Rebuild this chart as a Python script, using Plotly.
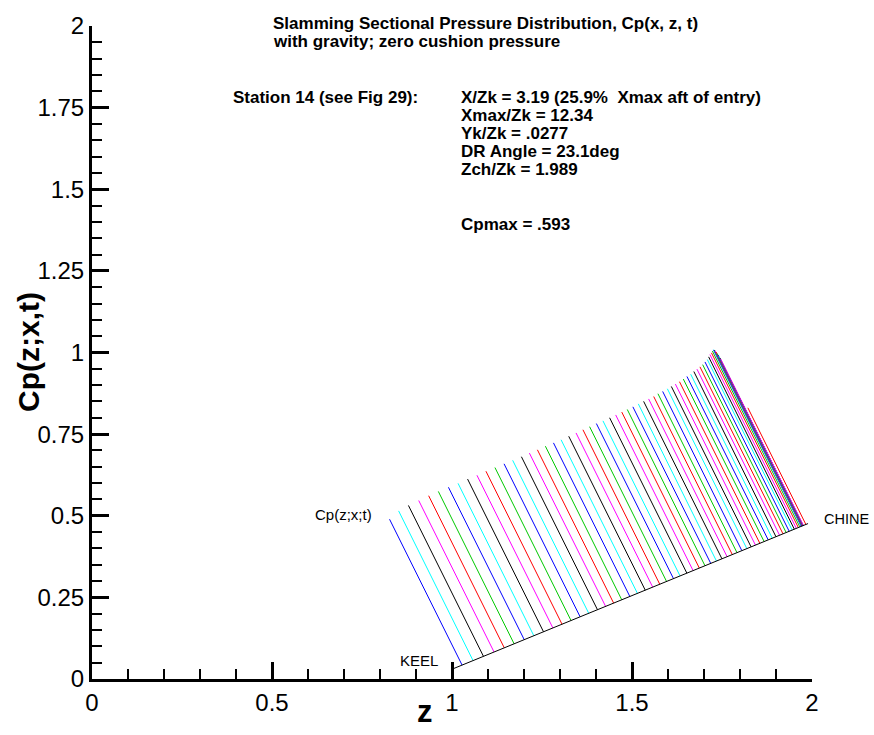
import numpy as np
import plotly.graph_objects as go

# Hull section (keel to chine) in the z / Cp plane
hull_z = [1.0, 1.989]
hull_y = [0.03, 0.476]

# Stations along the hull and the sectional pressure coefficient at each
station_z = [1.028, 1.0585, 1.0874, 1.1168, 1.1452, 1.1725, 1.2006, 1.2273, 1.2542, 1.2802,
             1.3056, 1.3306, 1.3559, 1.3798, 1.4041, 1.4267, 1.4490, 1.4715, 1.4940, 1.5151,
             1.5368, 1.5575, 1.5771, 1.5960, 1.6152, 1.6335, 1.6524, 1.6697, 1.6870, 1.7027,
             1.7187, 1.7346, 1.7498, 1.7641, 1.7786, 1.7916, 1.8051, 1.8190, 1.8308, 1.8429,
             1.8551, 1.8670, 1.8783, 1.8896, 1.8999, 1.9099, 1.9194, 1.9282, 1.9366, 1.9448,
             1.9509, 1.9565, 1.9620, 1.9662, 1.9700, 1.9712, 1.9722, 1.9730, 1.9737, 1.9743,
             1.9748, 1.9752, 1.9756, 1.9760, 1.9830]
station_cp = [0.490, 0.503, 0.507, 0.509, 0.511, 0.512, 0.512, 0.512, 0.513, 0.513,
              0.514, 0.514, 0.514, 0.514, 0.514, 0.515, 0.515, 0.516, 0.516, 0.516,
              0.517, 0.518, 0.519, 0.520, 0.521, 0.521, 0.522, 0.523, 0.524, 0.525,
              0.526, 0.528, 0.529, 0.530, 0.531, 0.534, 0.535, 0.537, 0.539, 0.541,
              0.543, 0.546, 0.549, 0.551, 0.555, 0.558, 0.561, 0.564, 0.569, 0.573,
              0.579, 0.584, 0.587, 0.591, 0.593, 0.593, 0.591, 0.588, 0.584, 0.579,
              0.574, 0.569, 0.564, 0.560, 0.392]

line_colors = ["#0000ff", "#00ffff", "#000000", "#ff00ff", "#ff0000", "#00c800"]

x_ticks = [0, 0.5, 1, 1.5, 2]
x_tick_labels = ["0", "0.5", "1", "1.5", "2"]
y_ticks = [0, 0.25, 0.5, 0.75, 1, 1.25, 1.5, 1.75, 2]
y_tick_labels = ["0", "0.25", "0.5", "0.75", "1", "1.25", "1.5", "1.75", "2"]

FONT = "Liberation Sans, Arial, sans-serif"

# Plot area in pixels (left, right, top, bottom)
PL, PR, PT, PB = 92, 812, 22, 679

# Pressure is drawn as sticks normal to the hull line
slope = (hull_y[1] - hull_y[0]) / (hull_z[1] - hull_z[0])
norm = np.hypot(1.0, slope)
nx, ny = -slope / norm, 1.0 / norm

fig = go.Figure()
for i, (z, cp) in enumerate(zip(station_z, station_cp)):
    yb = hull_y[0] + slope * (z - hull_z[0])
    fig.add_trace(go.Scatter(
        x=[z, z + cp * nx], y=[yb, yb + cp * ny], mode="lines",
        line=dict(color=line_colors[i % len(line_colors)], width=1),
        hoverinfo="skip", showlegend=False))

fig.add_trace(go.Scatter(x=hull_z, y=hull_y, mode="lines",
                         line=dict(color="black", width=1),
                         hoverinfo="skip", showlegend=False))

# Text is placed in paper coordinates derived from pixel positions
def px_x(px):
    return (px - PL) / (PR - PL)

def px_y(py):
    return (PB - py) / (PB - PT)

anns = []
def txt(text, px, py, size, bold=True, anchor="left", angle=0):
    anns.append(dict(x=px_x(px), y=px_y(py), xref="paper", yref="paper",
                     text=f"<b>{text}</b>" if bold else text,
                     showarrow=False, xanchor=anchor, yanchor="middle",
                     textangle=angle,
                     font=dict(family=FONT, size=size, color="black")))

INFO = 17
LINE = 18
txt("Slamming Sectional Pressure Distribution, Cp(x, z, t)", 271, 19.5, INFO)
txt("with gravity; zero cushion pressure", 271, 19.5 + LINE, INFO)
info_lines = ["X/Zk = 3.19 (25.9%&nbsp; Xmax aft of entry)", "Xmax/Zk = 12.34",
              "Yk/Zk = .0277", "DR Angle = 23.1deg", "Zch/Zk = 1.989"]
txt("Station 14 (see Fig 29):", 231, 94, INFO)
for k, line in enumerate(info_lines):
    txt(line, 459, 94 + k * LINE, INFO)
txt("Cpmax = .593", 459, 222, INFO)

txt("Cp(z;x;t)", 343, 513, 15, bold=False, anchor="center")
txt("CHINE", 846, 518, 14.5, bold=False, anchor="center")
txt("KEEL", 419, 660, 15, bold=False, anchor="center")

# Axis titles
txt("Cp(z;x,t)", 28, 350, 30, anchor="center", angle=-90)
txt("z", 425, 712, 31, anchor="center")

axis_common = dict(showgrid=False, zeroline=False, showline=True, linecolor="black",
                   linewidth=3, ticks="inside", ticklen=17, tickwidth=3, tickcolor="black",
                   tickfont=dict(family=FONT, size=24, color="black"), mirror=False)

fig.update_layout(
    width=874, height=735,
    margin=dict(l=PL, r=874 - PR, t=PT, b=735 - PB),
    paper_bgcolor="white", plot_bgcolor="white",
    showlegend=False,
    annotations=anns,
    xaxis=dict(range=[0, 2], tickvals=x_ticks, ticktext=x_tick_labels,
               minor=dict(dtick=0.1, tick0=0, ticks="inside", ticklen=10, tickwidth=1.5,
                          tickcolor="black", showgrid=False),
               **axis_common),
    yaxis=dict(range=[0, 2], tickvals=y_ticks, ticktext=y_tick_labels,
               minor=dict(dtick=0.05, tick0=0, ticks="inside", ticklen=10, tickwidth=1.5,
                          tickcolor="black", showgrid=False),
               **axis_common),
)

fig.write_html("out.html")
